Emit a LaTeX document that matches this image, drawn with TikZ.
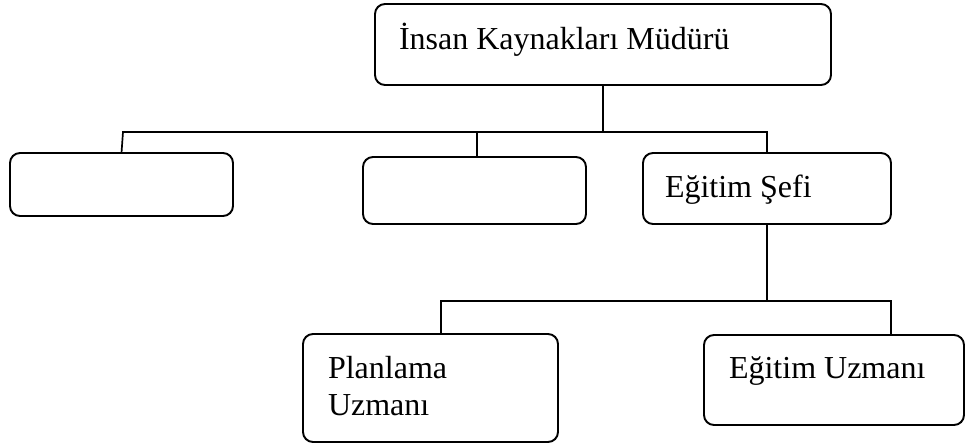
\documentclass[tikz,border=0pt]{standalone}
\usepackage{fontspec}
\setmainfont{Liberation Serif}
\begin{document}
\begin{tikzpicture}[x=1pt,y=-1pt,
  orgbox/.style={draw=black, line width=1.9pt, rounded corners=10pt, rectangle,
    inner sep=0pt, outer sep=0pt, fill=white},
  boxtext/.style={anchor=base west, inner sep=0pt, outer sep=0pt,
    font=\fontsize{32}{37}\selectfont},
  link/.style={draw=black, line width=1.7pt}]
  % canvas
  \path[fill=white] (0,0) rectangle (966,443);
  \useasboundingbox (0,0) rectangle (966,443);

  % boxes
  \node[orgbox, minimum width=456pt, minimum height=81pt] (mudur) at (603,44.5) {};
  \node[orgbox, minimum width=223pt, minimum height=63pt] (sol) at (121.5,184.5) {};
  \node[orgbox, minimum width=223pt, minimum height=67pt] (orta) at (474.5,190.5) {};
  \node[orgbox, minimum width=248pt, minimum height=71pt] (sef) at (767,188.5) {};
  \node[orgbox, minimum width=255pt, minimum height=108pt] (plan) at (430.5,388) {};
  \node[orgbox, minimum width=260pt, minimum height=90pt] (uzman) at (834,380) {};

  % labels
  \node[boxtext] (tmudur) at (399,50) {İnsan Kaynakları Müdürü};
  \node[boxtext] (tsef) at (665,198) {Eğitim Şefi};
  \node[boxtext] (tplan1) at (328,378) {Planlama};
  \node[boxtext] (tplan2) at (328,415) {Uzmanı};
  \node[boxtext] (tuzman) at (729,378) {Eğitim Uzmanı};

  % junction points
  \coordinate (busA) at (603,132);
  \coordinate (busL) at (123,132);
  \coordinate (busM) at (477,132);
  \coordinate (busR) at (767,132);
  \coordinate (busB) at (767,301);
  \coordinate (lowL) at (441,301);
  \coordinate (lowR) at (891,301);

  % upper level connectors
  \draw[link] (mudur.south) -- (busA);
  \draw[link] (sol.north) -- (busL) -- (busR) -- (sef.north);
  \draw[link] (busM) -- (busM |- orta.north);

  % lower level connectors
  \draw[link] (sef.south) -- (busB);
  \draw[link] (lowL |- plan.north) -- (lowL) -- (lowR) -- (lowR |- uzman.north);
\end{tikzpicture}
\end{document}
